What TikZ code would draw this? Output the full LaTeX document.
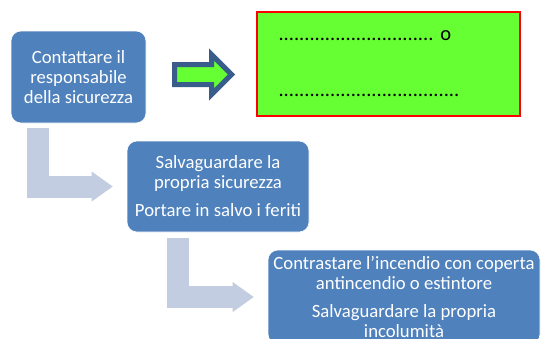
\documentclass[tikz,border=0pt]{standalone}
\usepackage{fontspec}
\setmainfont{Carlito}
\usepackage{tikz}
\usetikzlibrary{arrows.meta}
\usetikzlibrary{shapes.arrows}

\definecolor{stepblue}{HTML}{4F81BD}
\definecolor{connblue}{HTML}{C3CDE1}
\definecolor{darkblue}{HTML}{385D8A}
\definecolor{notegreen}{HTML}{66FF33}

\begin{document}
\begin{tikzpicture}[x=1pt,y=-1pt]
	\useasboundingbox (0,0) rectangle (545,338);
	\clip (0,0) rectangle (545,338);
	\begin{scope}[every node/.style={rectangle, rounded corners=10pt, fill=stepblue, draw=white, line width=0.6pt,
	              text=white, align=center, inner sep=2pt, font=\fontsize{18.7}{20}\selectfont}]
	    	\node[minimum width=135pt, minimum height=92pt] 	(box1) at (78.5,77) {Contattare il\\responsabile\\della sicurezza};
	    	\node[minimum width=182pt, minimum height=91pt] 	(box2) at (218,186.5) {Salvaguardare la\\propria sicurezza\\[8pt]Portare in salvo i feriti};
	    	\node[minimum width=272pt, minimum height=94pt] 	(box3) at (404,297) {Contrastare l’incendio con coperta\\antincendio o estintore\\[8pt]Salvaguardare la propria\\incolumità};
	\end{scope}
	\node[rectangle, fill=notegreen, draw=red, line width=1.2pt, minimum width=263pt, minimum height=104pt,
	      text width=220pt, align=left, font=\fontsize{20.5}{25}\selectfont] (note) at (388.5,64)
	      {..............................\,\,o\\[31pt]...................................};
	\node[single arrow, fill=notegreen, draw=darkblue, line width=5pt, inner sep=7.5pt,
	      minimum height=57pt, single arrow head extend=10pt] (go) at (198,74.5) {};
	\begin{scope}[every path/.style={draw=connblue, line width=22pt, line join=miter,
	              -{Triangle[length=21pt,width=30pt,line width=0pt]}, shorten >=14pt}]
		\path ([xshift=27.5pt,yshift=-5pt]box1.south west) |- (box2.west);
		\path ([xshift=51pt,yshift=-6pt]box2.south west) |- (box3.west);
	\end{scope}
\end{tikzpicture}
\end{document}
